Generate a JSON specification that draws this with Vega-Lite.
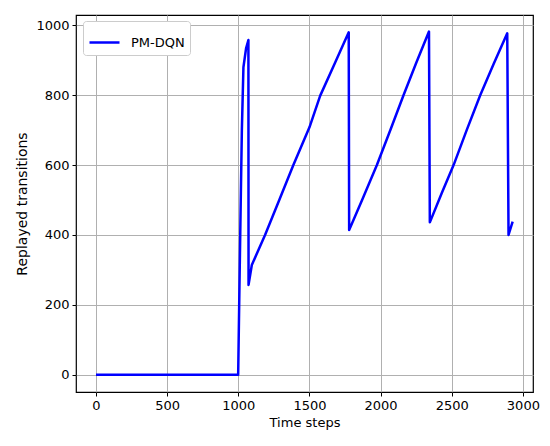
{
  "$schema": "https://vega.github.io/schema/vega-lite/v6.json",
  "width": 457,
  "height": 377,
  "autosize": "none",
  "padding": {"left": 76, "top": 15, "right": 17, "bottom": 54},
  "background": "white",
  "config": {
    "font": "DejaVu Sans",
    "view": {"stroke": "black", "strokeWidth": 1.2},
    "axis": {
      "domain": false,
      "gridColor": "#b0b0b0",
      "gridWidth": 1,
      "tickColor": "black",
      "tickSize": 4,
      "labelFont": "DejaVu Sans",
      "labelFontSize": 13,
      "labelColor": "black",
      "labelPadding": 3,
      "titleFont": "DejaVu Sans",
      "titleFontSize": 13,
      "titleFontWeight": "normal",
      "titleColor": "black"
    }
  },
  "data": {
    "values": [
      {"step": 0, "replayed": 0, "series": "PM-DQN"},
      {"step": 999, "replayed": 0, "series": "PM-DQN"},
      {"step": 1008, "replayed": 250, "series": "PM-DQN"},
      {"step": 1018, "replayed": 520, "series": "PM-DQN"},
      {"step": 1025, "replayed": 700, "series": "PM-DQN"},
      {"step": 1036, "replayed": 880, "series": "PM-DQN"},
      {"step": 1055, "replayed": 935, "series": "PM-DQN"},
      {"step": 1071, "replayed": 958, "series": "PM-DQN"},
      {"step": 1072, "replayed": 257, "series": "PM-DQN"},
      {"step": 1095, "replayed": 314, "series": "PM-DQN"},
      {"step": 1188, "replayed": 400, "series": "PM-DQN"},
      {"step": 1290, "replayed": 502, "series": "PM-DQN"},
      {"step": 1387, "replayed": 600, "series": "PM-DQN"},
      {"step": 1500, "replayed": 708, "series": "PM-DQN"},
      {"step": 1575, "replayed": 798, "series": "PM-DQN"},
      {"step": 1680, "replayed": 893, "series": "PM-DQN"},
      {"step": 1776, "replayed": 980, "series": "PM-DQN"},
      {"step": 1779, "replayed": 414, "series": "PM-DQN"},
      {"step": 1870, "replayed": 500, "series": "PM-DQN"},
      {"step": 1974, "replayed": 600, "series": "PM-DQN"},
      {"step": 2070, "replayed": 702, "series": "PM-DQN"},
      {"step": 2161, "replayed": 800, "series": "PM-DQN"},
      {"step": 2250, "replayed": 892, "series": "PM-DQN"},
      {"step": 2340, "replayed": 982, "series": "PM-DQN"},
      {"step": 2346, "replayed": 436, "series": "PM-DQN"},
      {"step": 2430, "replayed": 520, "series": "PM-DQN"},
      {"step": 2513, "replayed": 600, "series": "PM-DQN"},
      {"step": 2605, "replayed": 700, "series": "PM-DQN"},
      {"step": 2700, "replayed": 800, "series": "PM-DQN"},
      {"step": 2795, "replayed": 890, "series": "PM-DQN"},
      {"step": 2890, "replayed": 977, "series": "PM-DQN"},
      {"step": 2899, "replayed": 400, "series": "PM-DQN"},
      {"step": 2928, "replayed": 438, "series": "PM-DQN"}
    ]
  },
  "mark": {"type": "line", "strokeWidth": 2.5, "strokeJoin": "round", "strokeCap": "butt"},
  "encoding": {
    "x": {
      "field": "step",
      "type": "quantitative",
      "title": "Time steps",
      "scale": {"domain": [-140.6, 3071], "nice": false, "zero": false},
      "axis": {"values": [0, 500, 1000, 1500, 2000, 2500, 3000], "format": "d", "titlePadding": 4}
    },
    "y": {
      "field": "replayed",
      "type": "quantitative",
      "title": "Replayed transitions",
      "scale": {"domain": [-49.5, 1029.5], "nice": false, "zero": false},
      "axis": {"values": [0, 200, 400, 600, 800, 1000], "format": "d", "titlePadding": 6, "titleFontSize": 14}
    },
    "color": {
      "field": "series",
      "type": "nominal",
      "scale": {"range": ["#0000ff"]},
      "legend": {
        "title": null,
        "orient": "none",
        "legendX": 7,
        "legendY": 6,
        "symbolType": "stroke",
        "symbolSize": 900,
        "symbolStrokeWidth": 2.5,
        "labelFontSize": 13,
        "labelFont": "DejaVu Sans",
        "labelColor": "black",
        "labelOffset": 10,
        "padding": 5,
        "fillColor": "white",
        "strokeColor": "#cccccc",
        "cornerRadius": 3
      }
    }
  }
}
